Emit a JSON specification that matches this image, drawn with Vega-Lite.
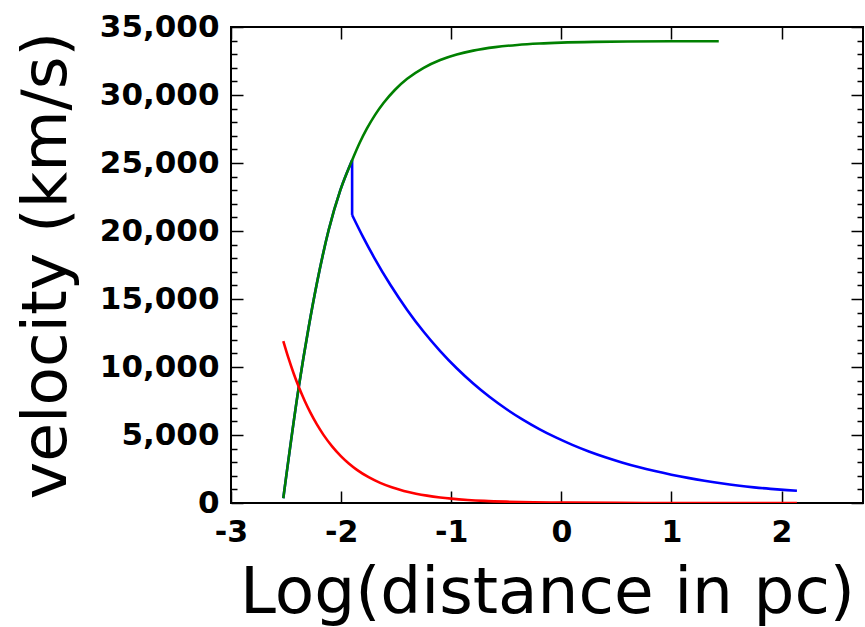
{
  "$schema": "https://vega.github.io/schema/vega-lite/v6.json",
  "width": 632,
  "height": 476,
  "autosize": {"type": "none"},
  "padding": {"left": 231, "top": 27, "right": 2, "bottom": 124},
  "background": "white",
  "config": {
    "view": {"stroke": "#000000", "strokeWidth": 2},
    "axis": {"grid": false, "domain": false, "tickColor": "#000000", "tickWidth": 1.5, "labelColor": "#000000", "titleColor": "#000000"}
  },
  "datasets": {
    "blue_rise": [
      {"x": -2.525, "v": 350, "i": 1},
      {"x": -2.385, "v": 8500, "i": 2},
      {"x": -2.295, "v": 12900, "i": 3},
      {"x": -2.22, "v": 16150, "i": 4},
      {"x": -2.113, "v": 20070, "i": 5},
      {"x": -2.007, "v": 23000, "i": 6},
      {"x": -1.9, "v": 25200, "i": 7}
    ],
    "blue_drop": [
      {"x": -1.9, "v": 25200, "i": 1},
      {"x": -1.9, "v": 21180, "i": 2}
    ],
    "blue_fall": [
      {"x": -1.9, "v": 21180, "i": 1},
      {"x": -1.8, "v": 19550, "i": 2},
      {"x": -1.7, "v": 18050, "i": 3},
      {"x": -1.55, "v": 16010, "i": 4},
      {"x": -1.4, "v": 14200, "i": 5},
      {"x": -1.25, "v": 12590, "i": 6},
      {"x": -1.1, "v": 11170, "i": 7},
      {"x": -0.95, "v": 9905, "i": 8},
      {"x": -0.8, "v": 8785, "i": 9},
      {"x": -0.65, "v": 7790, "i": 10},
      {"x": -0.5, "v": 6910, "i": 11},
      {"x": -0.35, "v": 6130, "i": 12},
      {"x": -0.2, "v": 5435, "i": 13},
      {"x": -0.05, "v": 4820, "i": 14},
      {"x": 0.1, "v": 4275, "i": 15},
      {"x": 0.25, "v": 3790, "i": 16},
      {"x": 0.4, "v": 3365, "i": 17},
      {"x": 0.55, "v": 2985, "i": 18},
      {"x": 0.7, "v": 2645, "i": 19},
      {"x": 0.85, "v": 2347, "i": 20},
      {"x": 1.0, "v": 2082, "i": 21},
      {"x": 1.15, "v": 1847, "i": 22},
      {"x": 1.3, "v": 1637, "i": 23},
      {"x": 1.45, "v": 1452, "i": 24},
      {"x": 1.6, "v": 1288, "i": 25},
      {"x": 1.75, "v": 1150, "i": 26},
      {"x": 1.9, "v": 1040, "i": 27},
      {"x": 2.05, "v": 950, "i": 28},
      {"x": 2.14, "v": 900, "i": 29}
    ],
    "green": [
      {"x": -2.525, "v": 350, "i": 1},
      {"x": -2.385, "v": 8500, "i": 2},
      {"x": -2.295, "v": 12900, "i": 3},
      {"x": -2.22, "v": 16150, "i": 4},
      {"x": -2.113, "v": 20070, "i": 5},
      {"x": -2.007, "v": 23000, "i": 6},
      {"x": -1.9, "v": 25200, "i": 7},
      {"x": -1.83, "v": 26503, "i": 8},
      {"x": -1.765, "v": 27538, "i": 9},
      {"x": -1.69, "v": 28556, "i": 10},
      {"x": -1.615, "v": 29412, "i": 11},
      {"x": -1.51, "v": 30388, "i": 12},
      {"x": -1.4, "v": 31187, "i": 13},
      {"x": -1.25, "v": 31995, "i": 14},
      {"x": -1.1, "v": 32569, "i": 15},
      {"x": -0.95, "v": 32975, "i": 16},
      {"x": -0.8, "v": 33262, "i": 17},
      {"x": -0.6, "v": 33520, "i": 18},
      {"x": -0.4, "v": 33682, "i": 19},
      {"x": -0.2, "v": 33785, "i": 20},
      {"x": 0.0, "v": 33850, "i": 21},
      {"x": 0.3, "v": 33904, "i": 22},
      {"x": 0.6, "v": 33932, "i": 23},
      {"x": 1.0, "v": 33949, "i": 24},
      {"x": 1.43, "v": 33956, "i": 25}
    ],
    "red": [
      {"x": -2.525, "v": 11900, "i": 1},
      {"x": -2.48, "v": 10700, "i": 2},
      {"x": -2.43, "v": 9500, "i": 3},
      {"x": -2.385, "v": 8540, "i": 4},
      {"x": -2.33, "v": 7495, "i": 5},
      {"x": -2.28, "v": 6658, "i": 6},
      {"x": -2.22, "v": 5776, "i": 7},
      {"x": -2.16, "v": 5010, "i": 8},
      {"x": -2.08, "v": 4145, "i": 9},
      {"x": -2.0, "v": 3429, "i": 10},
      {"x": -1.93, "v": 2905, "i": 11},
      {"x": -1.856, "v": 2437, "i": 12},
      {"x": -1.75, "v": 1896, "i": 13},
      {"x": -1.645, "v": 1478, "i": 14},
      {"x": -1.54, "v": 1153, "i": 15},
      {"x": -1.43, "v": 888, "i": 16},
      {"x": -1.32, "v": 685, "i": 17},
      {"x": -1.22, "v": 540, "i": 18},
      {"x": -1.1, "v": 406, "i": 19},
      {"x": -1.0, "v": 321, "i": 20},
      {"x": -0.85, "v": 225, "i": 21},
      {"x": -0.7, "v": 157, "i": 22},
      {"x": -0.5, "v": 98, "i": 23},
      {"x": -0.25, "v": 54, "i": 24},
      {"x": 0.0, "v": 30, "i": 25},
      {"x": 0.5, "v": 9.3, "i": 26},
      {"x": 1.0, "v": 2.9, "i": 27},
      {"x": 1.5, "v": 0.9, "i": 28},
      {"x": 2.14, "v": 0.2, "i": 29}
    ]
  },
  "layer": [
    {
      "data": {"name": "blue_rise"},
      "mark": {"type": "line", "color": "#0000ff", "strokeWidth": 2.6, "interpolate": "monotone", "clip": true},
      "encoding": {
        "x": {"field": "x", "type": "quantitative", "scale": {"domain": [-3, 2.74], "nice": false, "zero": false},
          "axis": {"orient": "bottom", "values": [-3, -2, -1, 0, 1, 2], "ticks": false, "labelExpr": "toString(datum.value)", "labelFont": "DejaVu Sans", "labelFontWeight": "bold", "labelFontSize": 30, "labelPadding": 14, "labelFlush": false, "labelOverlap": false, "title": "Log(distance in pc)", "titleFont": "DejaVu Sans", "titleFontWeight": "normal", "titleFontSize": 64.5, "titlePadding": 14}},
        "y": {"field": "v", "type": "quantitative", "scale": {"domain": [0, 35000], "nice": false, "zero": false},
          "axis": {"orient": "left", "values": [0, 5000, 10000, 15000, 20000, 25000, 30000, 35000], "ticks": false, "format": ",d", "labelFont": "DejaVu Sans", "labelFontWeight": "bold", "labelFontSize": 31, "labelPadding": 12, "labelFlush": false, "labelOverlap": false, "title": "velocity (km/s)", "titleFont": "DejaVu Sans", "titleFontWeight": "normal", "titleFontSize": 63, "titlePadding": 21}},
        "order": {"field": "i", "type": "quantitative"}
      }
    },
    {
      "data": {"name": "blue_drop"},
      "mark": {"type": "line", "color": "#0000ff", "strokeWidth": 2.6, "clip": true},
      "encoding": {
        "x": {"field": "x", "type": "quantitative", "scale": {"domain": [-3, 2.74], "nice": false, "zero": false}, "axis": null},
        "y": {"field": "v", "type": "quantitative", "scale": {"domain": [0, 35000], "nice": false, "zero": false}, "axis": null},
        "order": {"field": "i", "type": "quantitative"}
      }
    },
    {
      "data": {"name": "blue_fall"},
      "mark": {"type": "line", "color": "#0000ff", "strokeWidth": 2.6, "interpolate": "monotone", "clip": true},
      "encoding": {
        "x": {"field": "x", "type": "quantitative", "scale": {"domain": [-3, 2.74], "nice": false, "zero": false}, "axis": null},
        "y": {"field": "v", "type": "quantitative", "scale": {"domain": [0, 35000], "nice": false, "zero": false}, "axis": null},
        "order": {"field": "i", "type": "quantitative"}
      }
    },
    {
      "data": {"name": "green"},
      "mark": {"type": "line", "color": "#008000", "strokeWidth": 2.6, "interpolate": "monotone", "clip": true},
      "encoding": {
        "x": {"field": "x", "type": "quantitative", "scale": {"domain": [-3, 2.74], "nice": false, "zero": false}, "axis": null},
        "y": {"field": "v", "type": "quantitative", "scale": {"domain": [0, 35000], "nice": false, "zero": false}, "axis": null},
        "order": {"field": "i", "type": "quantitative"}
      }
    },
    {
      "data": {"name": "red"},
      "mark": {"type": "line", "color": "#ff0000", "strokeWidth": 2.6, "interpolate": "monotone", "clip": true},
      "encoding": {
        "x": {"field": "x", "type": "quantitative", "scale": {"domain": [-3, 2.74], "nice": false, "zero": false}, "axis": null},
        "y": {"field": "v", "type": "quantitative", "scale": {"domain": [0, 35000], "nice": false, "zero": false}, "axis": null},
        "order": {"field": "i", "type": "quantitative"}
      }
    },
    {
      "data": {"name": "green"},
      "mark": {"type": "line", "opacity": 0},
      "encoding": {
        "x": {"field": "x", "type": "quantitative", "scale": {"domain": [-3, 2.74], "nice": false, "zero": false},
          "axis": {"orient": "bottom", "values": [-3, -2, -1, 0, 1, 2], "labels": false, "tickSize": -12, "title": null}},
        "y": {"field": "v", "type": "quantitative", "scale": {"domain": [0, 35000], "nice": false, "zero": false},
          "axis": {"orient": "left", "values": [0, 5000, 10000, 15000, 20000, 25000, 30000, 35000], "labels": false, "tickSize": -12, "title": null}}
      }
    },
    {
      "data": {"name": "green"},
      "mark": {"type": "line", "opacity": 0},
      "encoding": {
        "x": {"field": "x", "type": "quantitative", "scale": {"domain": [-3, 2.74], "nice": false, "zero": false},
          "axis": {"orient": "top", "values": [-3, -2, -1, 0, 1, 2], "labels": false, "tickSize": -12, "title": null}},
        "y": {"field": "v", "type": "quantitative", "scale": {"domain": [0, 35000], "nice": false, "zero": false},
          "axis": {"orient": "right", "values": [0, 5000, 10000, 15000, 20000, 25000, 30000, 35000], "labels": false, "tickSize": -12, "title": null}}
      }
    },
    {
      "data": {"name": "green"},
      "mark": {"type": "line", "opacity": 0},
      "encoding": {
        "x": {"field": "x", "type": "quantitative", "scale": {"domain": [-3, 2.74], "nice": false, "zero": false}, "axis": null},
        "y": {"field": "v", "type": "quantitative", "scale": {"domain": [0, 35000], "nice": false, "zero": false},
          "axis": {"orient": "left", "values": [1000, 2000, 3000, 4000, 6000, 7000, 8000, 9000, 11000, 12000, 13000, 14000, 16000, 17000, 18000, 19000, 21000, 22000, 23000, 24000, 26000, 27000, 28000, 29000, 31000, 32000, 33000, 34000], "labels": false, "tickSize": -6, "title": null}}
      }
    },
    {
      "data": {"name": "green"},
      "mark": {"type": "line", "opacity": 0},
      "encoding": {
        "x": {"field": "x", "type": "quantitative", "scale": {"domain": [-3, 2.74], "nice": false, "zero": false}, "axis": null},
        "y": {"field": "v", "type": "quantitative", "scale": {"domain": [0, 35000], "nice": false, "zero": false},
          "axis": {"orient": "right", "values": [1000, 2000, 3000, 4000, 6000, 7000, 8000, 9000, 11000, 12000, 13000, 14000, 16000, 17000, 18000, 19000, 21000, 22000, 23000, 24000, 26000, 27000, 28000, 29000, 31000, 32000, 33000, 34000], "labels": false, "tickSize": -6, "title": null}}
      }
    }
  ],
  "resolve": {"axis": {"x": "independent", "y": "independent"}}
}
